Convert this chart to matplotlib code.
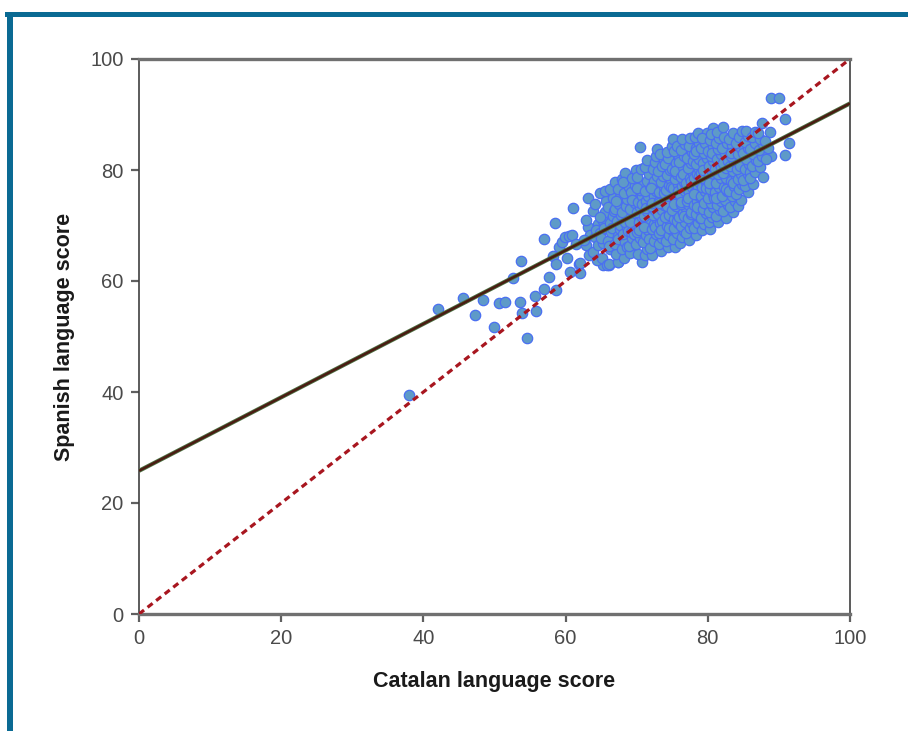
import matplotlib
matplotlib.use("Agg")
import matplotlib.pyplot as plt
from matplotlib.patches import Rectangle
import numpy as np

plt.rcParams['font.family'] = ['Liberation Sans', 'DejaVu Sans']

# Pupils lying away from the main cloud (Catalan score, Spanish score)
outliers = [
    (38.0, 39.5), (42.1, 55.0), (45.6, 56.9), (47.3, 53.9), (48.4, 56.6),
    (49.9, 51.7), (50.6, 56.0), (51.5, 56.2), (52.6, 60.5), (53.6, 56.2),
    (53.7, 63.6), (53.9, 54.2), (54.6, 49.7), (55.7, 57.3), (55.8, 54.6),
    (57.0, 58.6), (57.0, 67.6), (57.7, 60.7), (58.2, 64.5), (58.5, 70.5),
    (58.6, 58.4), (58.6, 63.1), (59.1, 66.1), (59.5, 67.0), (59.9, 67.9),
    (60.2, 64.1), (60.5, 68.1), (60.6, 61.6), (60.9, 68.3), (61.0, 73.1),
    (61.5, 66.7), (61.9, 63.1), (62.0, 61.4), (62.0, 63.2), (65.3, 62.9),
    (66.1, 62.9), (67.4, 63.4), (88.9, 93.0), (90.0, 93.0), (90.9, 89.2),
    (91.4, 84.9), (90.9, 82.7), (88.9, 82.5),
]

# Main cloud of pupils, column by column along the Catalan axis
cloud = [
    (62.8, 66.5), (63.2, 69.8), (63.4, 68.2), (62.9, 71.0), (63.1, 74.9), (63.3, 64.6), (62.6, 67.4),
    (63.8, 65.2), (64.2, 67.9), (64.5, 70.3), (63.9, 72.6), (64.3, 69.1), (64.6, 66.4), (64.1, 73.8),
    (64.8, 75.9), (64.4, 63.8),
    (65.1, 64.2), (64.9, 68.6), (65.3, 70.9), (65.5, 72.4), (65.2, 66.9), (65.7, 74.5), (64.8, 71.6),
    (65.4, 69.5), (65.6, 76.2), (65.0, 67.8), (65.8, 62.9),
    (66.1, 63.1), (66.3, 65.8), (65.9, 67.2), (66.4, 68.9), (66.2, 70.4), (66.6, 71.8), (66.0, 73.3),
    (66.7, 74.9), (66.5, 69.6), (66.8, 72.7), (66.3, 76.5), (66.1, 66.3), (66.9, 77.8),
    (67.4, 63.4), (67.1, 64.9), (66.9, 66.7), (67.3, 68.1), (67.6, 69.4), (67.2, 70.8), (67.8, 71.9),
    (67.0, 72.9), (67.5, 73.8), (67.7, 75.2), (67.3, 76.6), (67.9, 78.4), (67.4, 67.5), (67.1, 74.4),
    (67.6, 70.1),
    (68.2, 64.1), (67.9, 65.7), (68.4, 67.0), (68.1, 68.4), (68.6, 69.7), (68.3, 70.6), (68.8, 71.7),
    (68.0, 72.5), (68.5, 73.6), (68.7, 74.7), (68.2, 75.8), (68.9, 76.9), (68.4, 79.5), (68.6, 66.2),
    (68.1, 77.8), (68.8, 69.0),
    (69.1, 65.0), (68.9, 66.3), (69.4, 67.8), (69.2, 68.9), (69.7, 70.2), (69.3, 71.1), (69.6, 72.2),
    (69.0, 73.0), (69.8, 74.1), (69.5, 75.0), (69.2, 76.1), (69.7, 77.3), (69.4, 78.6), (69.9, 80.0),
    (69.1, 70.6), (69.6, 68.4), (69.3, 74.6),
    (70.7, 63.4), (70.2, 64.9), (69.9, 66.6), (70.4, 67.7), (70.1, 68.8), (70.6, 69.6), (70.3, 70.7),
    (70.8, 71.5), (70.0, 72.4), (70.5, 73.3), (70.2, 74.2), (70.7, 75.3), (70.4, 76.4), (70.9, 77.5),
    (70.1, 78.7), (70.6, 80.2), (70.5, 84.1), (70.3, 69.2), (70.8, 73.9), (70.0, 76.8),
    (71.1, 64.6), (71.4, 65.8), (70.9, 67.1), (71.3, 68.3), (71.6, 69.2), (71.2, 70.1), (71.7, 71.0),
    (71.0, 71.8), (71.5, 72.7), (71.8, 73.5), (71.3, 74.4), (71.6, 75.4), (71.1, 76.3), (71.9, 77.2),
    (71.4, 78.1), (71.7, 79.3), (71.2, 80.6), (71.5, 81.8), (71.0, 69.7), (71.8, 67.6), (71.3, 73.1),
    (72.2, 64.7), (71.9, 66.0), (72.4, 67.2), (72.7, 68.4), (72.1, 69.3), (72.5, 70.2), (72.8, 71.1),
    (72.3, 71.9), (72.6, 72.8), (72.0, 73.6), (72.9, 74.5), (72.4, 75.3), (72.7, 76.2), (72.1, 77.1),
    (72.5, 78.0), (72.8, 79.0), (72.3, 80.1), (72.6, 81.4), (72.7, 82.6), (72.9, 83.8), (72.2, 74.0),
    (72.6, 69.8), (72.0, 76.7),
    (73.4, 65.4), (73.1, 66.6), (73.6, 67.7), (73.2, 68.7), (73.8, 69.5), (73.3, 70.4), (73.7, 71.2),
    (73.0, 72.0), (73.5, 72.8), (73.9, 73.7), (73.2, 74.5), (73.6, 75.3), (73.1, 76.1), (73.8, 77.0),
    (73.4, 77.9), (73.7, 78.9), (73.0, 79.8), (73.5, 80.8), (73.9, 81.9), (73.3, 82.9), (73.6, 70.8),
    (73.1, 74.0), (73.8, 75.9), (73.4, 69.2),
    (74.4, 66.1), (74.1, 67.2), (74.6, 68.3), (74.9, 69.1), (74.3, 70.0), (74.7, 70.8), (74.0, 71.6),
    (74.5, 72.4), (74.8, 73.2), (74.2, 74.0), (74.6, 74.8), (74.9, 75.6), (74.1, 76.4), (74.5, 77.3),
    (74.8, 78.2), (74.3, 79.1), (74.7, 80.0), (74.0, 81.0), (74.4, 82.1), (74.3, 83.2), (74.9, 84.3),
    (74.6, 71.9), (74.2, 73.5), (74.8, 76.9), (74.5, 69.6),
    (75.4, 66.1), (75.1, 67.6), (75.6, 68.7), (75.2, 69.6), (75.8, 70.4), (75.3, 71.2), (75.7, 72.0),
    (75.0, 72.8), (75.5, 73.6), (75.9, 74.3), (75.2, 75.1), (75.6, 75.9), (75.1, 76.7), (75.8, 77.5),
    (75.4, 78.4), (75.7, 79.3), (75.0, 80.2), (75.5, 81.2), (75.9, 82.3), (75.3, 83.4), (75.1, 85.6),
    (75.6, 70.9), (75.2, 73.9), (75.8, 76.3), (75.4, 79.8), (75.7, 84.4),
    (76.1, 66.8), (76.4, 67.9), (76.7, 69.0), (76.2, 69.9), (76.8, 70.7), (76.0, 71.5), (76.5, 72.3),
    (76.9, 73.1), (76.3, 73.9), (76.6, 74.7), (76.1, 75.5), (76.8, 76.3), (76.4, 77.1), (76.7, 77.9),
    (76.2, 78.8), (76.9, 79.7), (76.5, 80.6), (76.0, 81.5), (76.6, 82.5), (76.3, 83.6), (76.8, 84.7),
    (76.4, 85.5), (76.7, 71.8), (76.2, 74.3), (76.9, 76.8), (76.5, 79.2),
    (77.3, 67.4), (77.0, 68.6), (77.5, 69.6), (77.8, 70.5), (77.2, 71.3), (77.6, 72.1), (77.9, 72.9),
    (77.4, 73.7), (77.1, 74.5), (77.7, 75.3), (77.3, 76.1), (77.8, 76.9), (77.0, 77.7), (77.5, 78.5),
    (77.9, 79.4), (77.2, 80.3), (77.6, 81.2), (77.1, 82.2), (77.8, 83.2), (77.4, 84.3), (77.5, 85.8),
    (77.7, 72.5), (77.2, 75.0), (77.6, 78.1), (77.9, 81.7),
    (78.4, 68.3), (78.1, 69.5), (78.6, 70.5), (78.9, 71.3), (78.3, 72.1), (78.7, 72.9), (78.0, 73.7),
    (78.5, 74.5), (78.8, 75.3), (78.2, 76.1), (78.6, 76.9), (78.9, 77.7), (78.1, 78.5), (78.5, 79.3),
    (78.8, 80.2), (78.3, 81.1), (78.7, 82.0), (78.0, 82.9), (78.4, 83.9), (78.8, 84.9), (78.2, 85.9),
    (78.6, 86.6), (78.5, 73.3), (78.1, 75.7), (78.7, 79.0), (78.3, 83.4),
    (79.2, 69.2), (79.5, 70.3), (79.1, 71.3), (79.7, 72.2), (79.3, 73.0), (79.9, 73.8), (79.4, 74.6),
    (79.0, 75.4), (79.6, 76.2), (79.2, 77.0), (79.8, 77.8), (79.5, 78.6), (79.1, 79.4), (79.7, 80.3),
    (79.3, 81.2), (79.9, 82.1), (79.4, 83.0), (79.0, 83.9), (79.6, 84.9), (79.9, 86.7), (79.2, 85.8),
    (79.5, 74.0), (79.8, 76.7), (79.3, 80.0),
    (80.3, 69.4), (80.1, 70.6), (80.6, 71.6), (80.2, 72.5), (80.8, 73.3), (80.4, 74.1), (80.0, 74.9),
    (80.7, 75.7), (80.3, 76.5), (80.9, 77.3), (80.5, 78.1), (80.1, 78.9), (80.6, 79.8), (80.2, 80.7),
    (80.8, 81.6), (80.4, 82.5), (80.0, 83.4), (80.7, 84.4), (80.3, 85.4), (80.7, 87.6), (80.5, 86.5),
    (80.9, 75.0), (80.2, 77.7), (80.6, 83.0),
    (81.4, 70.6), (81.1, 71.8), (81.7, 72.8), (81.3, 73.7), (81.9, 74.5), (81.5, 75.3), (81.0, 76.1),
    (81.6, 76.9), (81.2, 77.7), (81.8, 78.5), (81.4, 79.3), (81.0, 80.2), (81.7, 81.1), (81.3, 82.0),
    (81.9, 82.9), (81.5, 83.8), (81.1, 84.8), (81.6, 85.8), (81.3, 86.9), (81.8, 80.6), (81.2, 75.0),
    (82.5, 71.4), (82.2, 72.7), (82.8, 73.7), (82.4, 74.6), (82.0, 75.4), (82.7, 76.2), (82.3, 77.0),
    (82.9, 77.8), (82.5, 78.6), (82.1, 79.4), (82.6, 80.3), (82.2, 81.2), (82.8, 82.1), (82.4, 83.0),
    (82.0, 83.9), (82.7, 84.9), (82.3, 86.0), (82.1, 87.7), (82.6, 76.6), (82.9, 81.6),
    (83.5, 72.4), (83.1, 73.3), (83.8, 74.4), (83.4, 75.4), (83.0, 76.3), (83.7, 77.2), (83.3, 78.1),
    (83.9, 79.0), (83.5, 79.9), (83.1, 80.8), (83.7, 81.7), (83.2, 82.6), (83.8, 83.5), (83.4, 84.5),
    (83.0, 85.5), (83.5, 86.7), (83.6, 77.7), (83.2, 83.0),
    (84.2, 73.5), (84.6, 74.6), (84.0, 75.6), (84.4, 76.6), (84.8, 77.5), (84.3, 78.4), (84.7, 79.3),
    (84.1, 80.2), (84.5, 81.1), (84.9, 82.0), (84.2, 82.9), (84.6, 83.9), (84.0, 84.9), (84.4, 86.0),
    (84.8, 87.1), (84.5, 80.7),
    (85.7, 76.0), (85.3, 77.1), (85.0, 78.2), (85.6, 79.2), (85.2, 80.2), (85.8, 81.1), (85.4, 82.0),
    (85.0, 83.0), (85.6, 84.0), (85.2, 85.1), (85.7, 86.2), (85.4, 87.0), (85.9, 79.6),
    (86.3, 77.4), (86.0, 78.6), (86.6, 79.7), (86.2, 80.8), (86.8, 81.8), (86.4, 82.8), (86.0, 83.8),
    (86.6, 84.8), (86.2, 85.9), (86.7, 86.9),
    (87.3, 80.5), (87.0, 81.6), (87.6, 82.6), (87.2, 83.6), (87.8, 84.6), (87.4, 85.6), (87.6, 88.5),
    (87.1, 86.7), (87.8, 78.7),
    (88.2, 81.9), (88.4, 84.0), (88.7, 86.8), (88.1, 85.3),
]

# Least-squares fit of Spanish on Catalan score
fit_intercept = 25.8
fit_slope = 0.662

axis_ticks = [0, 20, 40, 60, 80, 100]

pts = np.array(outliers + cloud)
catalan = pts[:, 0]
spanish = pts[:, 1]

fig = plt.figure(figsize=(9.08, 7.31), dpi=100)
ax = fig.add_axes([139 / 908, 1 - 614 / 731, (850 - 139) / 908, (614 - 59) / 731])

ax.scatter(catalan, spanish, s=56, facecolor='#5e9ac8', edgecolor='#4a6ff2',
           linewidths=0.9, zorder=2)

xs = np.array([0, 100])
ax.plot(xs, fit_intercept + fit_slope * xs, color='#4d7244', lw=3.0, zorder=3,
        solid_capstyle='butt')
ax.plot(xs, fit_intercept + fit_slope * xs, color='#4a1c12', lw=1.8, zorder=4,
        solid_capstyle='butt')
ax.plot(xs, xs, color='#a8161f', lw=2.3, dashes=(2.0, 1.4), zorder=5)

ax.set_xlim(0, 100)
ax.set_ylim(0, 100)
ax.set_xticks(axis_ticks)
ax.set_yticks(axis_ticks)

for side in ('top', 'bottom'):
    ax.spines[side].set_linewidth(2.4)
    ax.spines[side].set_color('#707070')
for side in ('left', 'right'):
    ax.spines[side].set_linewidth(1.2)
    ax.spines[side].set_color('#404040')

ax.tick_params(direction='out', length=6, width=1.6, color='#606060',
               labelsize=14.5, labelcolor='#4a4a4a')
ax.tick_params(axis='x', pad=5)
ax.tick_params(axis='y', pad=5)

ax.set_xlabel('Catalan language score', fontsize=15.5, fontweight='bold',
              color='#1a1a1a', labelpad=16)
ax.set_ylabel('Spanish language score', fontsize=15.5, fontweight='bold',
              color='#1a1a1a', labelpad=11)

# Teal frame along the top and left edges
frame_color = '#0a6a93'
fig.add_artist(Rectangle((5 / 908, 1 - 17 / 731), 1, 5 / 731,
                         transform=fig.transFigure, color=frame_color, lw=0))
fig.add_artist(Rectangle((7 / 908, 0), 6 / 908, 1 - 12 / 731,
                         transform=fig.transFigure, color=frame_color, lw=0))

fig.savefig('out.png', dpi=100)
